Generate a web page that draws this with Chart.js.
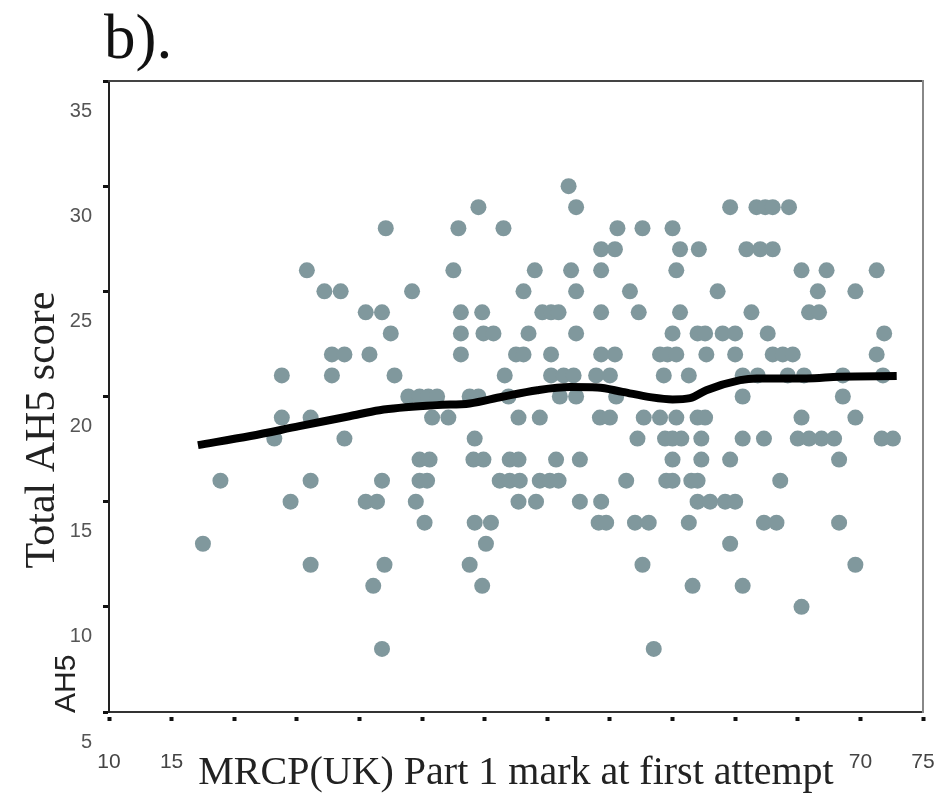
<!DOCTYPE html>
<html>
<head>
<meta charset="utf-8">
<title>Total AH5 score by MRCP(UK) Part 1 mark</title>
<script src="https://cdn.jsdelivr.net/npm/chart.js@4.4.1/dist/chart.umd.min.js"></script>
<style>
  html, body { margin: 0; padding: 0; background: #fff; }
  #wrap { position: relative; width: 943px; height: 797px; }
</style>
</head>
<body>
<div id="wrap"><canvas id="chart"></canvas></div>
<script>
// AH5 score of each row of dots, and the Part 1 marks found on that row
const ah5Scores = [31, 30, 29, 28, 27, 26, 25, 24, 23, 22, 21, 20, 19, 18, 17, 16, 15, 14, 13, 12, 11, 9];
const part1Marks = [
    [46.7],
    [39.5, 47.3, 59.6, 61.7, 62.4, 63.0, 64.3],
    [32.1, 37.9, 41.5, 50.6, 52.6, 55.0],
    [49.3, 50.4, 55.6, 57.1, 60.9, 62.0, 63.0],
    [25.8, 37.5, 44.0, 46.9, 49.3, 55.3, 65.3, 67.3, 71.3],
    [27.2, 28.5, 34.2, 43.1, 47.3, 51.6, 58.6, 66.6, 69.6],
    [30.5, 31.8, 38.1, 39.8, 44.6, 45.3, 45.9, 49.3, 52.3, 55.6, 61.3, 65.9, 66.7],
    [32.5, 38.1, 39.9, 40.7, 43.5, 47.3, 55.0, 57.0, 57.6, 59.0, 60.0, 62.6, 71.9],
    [27.8, 28.8, 30.8, 38.1, 42.5, 43.1, 45.3, 49.3, 50.4, 54.0, 54.6, 55.3, 57.7, 60.0, 63.0, 63.8, 64.6, 71.3],
    [23.8, 27.8, 32.8, 41.6, 45.3, 46.3, 47.1, 48.9, 50.0, 54.3, 56.3, 60.6, 61.8, 64.2, 65.5, 68.6, 71.8],
    [33.9, 34.8, 35.5, 36.2, 38.8, 39.5, 41.9, 46.0, 47.3, 50.5, 60.6, 68.6],
    [23.8, 26.1, 35.8, 37.1, 42.7, 44.4, 49.2, 50.0, 52.7, 54.0, 55.3, 57.0, 57.6, 65.3, 69.6],
    [23.2, 28.8, 39.2, 52.2, 54.4, 55.0, 55.7, 57.3, 60.6, 62.3, 65.0, 65.9, 66.9, 67.9, 71.7, 72.6],
    [34.8, 35.6, 39.1, 39.9, 42.0, 42.7, 45.7, 47.6, 55.0, 57.3, 59.6, 68.3],
    [18.9, 26.1, 31.8, 34.8, 35.4, 41.2, 42.0, 42.8, 44.4, 45.2, 45.9, 51.3, 54.5, 55.0, 56.5, 57.0, 63.6],
    [24.5, 30.5, 31.4, 34.5, 42.7, 44.1, 47.6, 49.3, 57.0, 58.0, 59.2, 60.0],
    [35.2, 39.2, 40.5, 49.1, 49.7, 52.0, 53.1, 56.3, 62.3, 63.3, 68.3],
    [17.5, 40.1, 59.6],
    [26.1, 32.0, 38.8, 52.6, 69.6],
    [31.1, 39.8, 56.6, 60.6],
    [65.3],
    [31.8, 53.5]
];

// smoothed trend line
const trendMarks = [17.1, 21.3, 25.2, 29.2, 31.6, 36.2, 38.8, 41.4, 44.2, 46.8, 49.0, 51.0, 53.2, 55.0, 56.4, 57.7, 60.4, 61.7, 65.7, 68.3, 72.9];
const trendScores = [18.69, 19.12, 19.59, 20.06, 20.35, 20.59, 20.67, 20.99, 21.30, 21.45, 21.43, 21.22, 20.97, 20.86, 20.92, 21.30, 21.78, 21.86, 21.86, 21.94, 21.97];

// the printed y labels sit one step off their tick marks
const yTickValues = [6, 11, 16, 21, 26, 31, 36];
const yTickLabels = ['5', '10', '15', '20', '25', '30', '35'];
// only these x labels are not covered by the axis title
const xLabelsShown = [10, 15, 70, 75];

const points = [];
ah5Scores.forEach((score, i) => {
    part1Marks[i].forEach(mark => points.push({ x: mark, y: score }));
});
const trend = trendMarks.map((mark, i) => ({ x: mark, y: trendScores[i] }));

const serif = '"Liberation Serif", "Times New Roman", serif';
const sans = '"Liberation Sans", Arial, sans-serif';

// loose texts: panel letter, y axis title and the stray "AH5"
const figureText = {
    id: 'figureText',
    afterDraw(chart) {
        const ctx = chart.ctx;
        ctx.save();
        ctx.fillStyle = '#111';
        ctx.textBaseline = 'alphabetic';
        ctx.textAlign = 'left';
        ctx.font = '63px ' + serif;
        ctx.fillText('b).', 104, 58);

        ctx.save();
        ctx.translate(43, 430);
        ctx.rotate(-Math.PI / 2);
        ctx.textAlign = 'center';
        ctx.textBaseline = 'middle';
        ctx.fillStyle = '#222';
        ctx.font = '42px ' + serif;
        ctx.fillText('Total AH5 score', 0, 0);
        ctx.restore();

        ctx.save();
        ctx.translate(67, 713);
        ctx.rotate(-Math.PI / 2);
        ctx.textAlign = 'left';
        ctx.textBaseline = 'middle';
        ctx.fillStyle = '#222';
        ctx.font = '30px ' + sans;
        ctx.fillText('AH5', 0, 0);
        ctx.restore();

        ctx.restore();
    }
};

new Chart(document.getElementById('chart'), {
    type: 'scatter',
    data: {
        datasets: [
            {
                type: 'line',
                label: 'Trend',
                data: trend,
                xAxisID: 'x',
                yAxisID: 'y',
                borderColor: '#000',
                borderWidth: 8,
                pointRadius: 0,
                fill: false,
                cubicInterpolationMode: 'monotone'
            },
            {
                label: 'Candidates',
                data: points,
                xAxisID: 'x',
                yAxisID: 'y',
                backgroundColor: '#80989d',
                borderWidth: 0,
                pointRadius: 8,
                pointHoverRadius: 8
            }
        ]
    },
    options: {
        responsive: true,
        maintainAspectRatio: false,
        animation: false,
        events: [],
        layout: { padding: { top: 81, right: 20, bottom: 0, left: 0 } },
        plugins: {
            legend: { display: false },
            tooltip: { enabled: false }
        },
        scales: {
            x: {
                type: 'linear',
                position: 'bottom',
                min: 10,
                max: 75,
                afterFit: s => { s.height = 85; },
                ticks: {
                    stepSize: 5,
                    autoSkip: false,
                    maxRotation: 0,
                    padding: 0,
                    color: '#444',
                    font: { family: sans, size: 21 },
                    callback: v => xLabelsShown.includes(v) ? String(v) : ''
                },
                grid: {
                    drawOnChartArea: false,
                    // long invisible tick keeps the labels low; only a dot near the axis is inked
                    tickLength: 38,
                    tickWidth: 4,
                    tickColor: '#111',
                    tickBorderDash: [0, 4, 4, 60]
                },
                border: { color: '#333', width: 2 },
                title: {
                    display: true,
                    text: 'MRCP(UK) Part 1 mark at first attempt',
                    color: '#222',
                    font: { family: serif, size: 40 },
                    padding: { top: 0, bottom: 0 }
                }
            },
            y: {
                type: 'linear',
                position: 'left',
                min: 6,
                max: 36,
                afterFit: s => { s.width = 109; },
                afterBuildTicks: s => { s.ticks = yTickValues.map(v => ({ value: v })); },
                ticks: {
                    padding: 11,
                    labelOffset: 30,
                    color: '#555',
                    font: { family: sans, size: 20 },
                    callback: (v, i) => yTickLabels[i]
                },
                grid: {
                    drawOnChartArea: false,
                    tickLength: 6,
                    tickWidth: 3,
                    tickColor: '#111'
                },
                border: { color: '#222', width: 2 }
            },
            xTop: {
                type: 'linear',
                position: 'top',
                min: 10,
                max: 75,
                afterFit: s => { s.height = 0; },
                ticks: { display: false },
                grid: { display: false },
                border: { color: '#444', width: 2 }
            },
            yRight: {
                type: 'linear',
                position: 'right',
                min: 6,
                max: 36,
                afterFit: s => { s.width = 0; },
                ticks: { display: false },
                grid: { display: false },
                border: { color: '#888', width: 2 }
            }
        }
    },
    plugins: [figureText]
});
</script>
</body>
</html>
